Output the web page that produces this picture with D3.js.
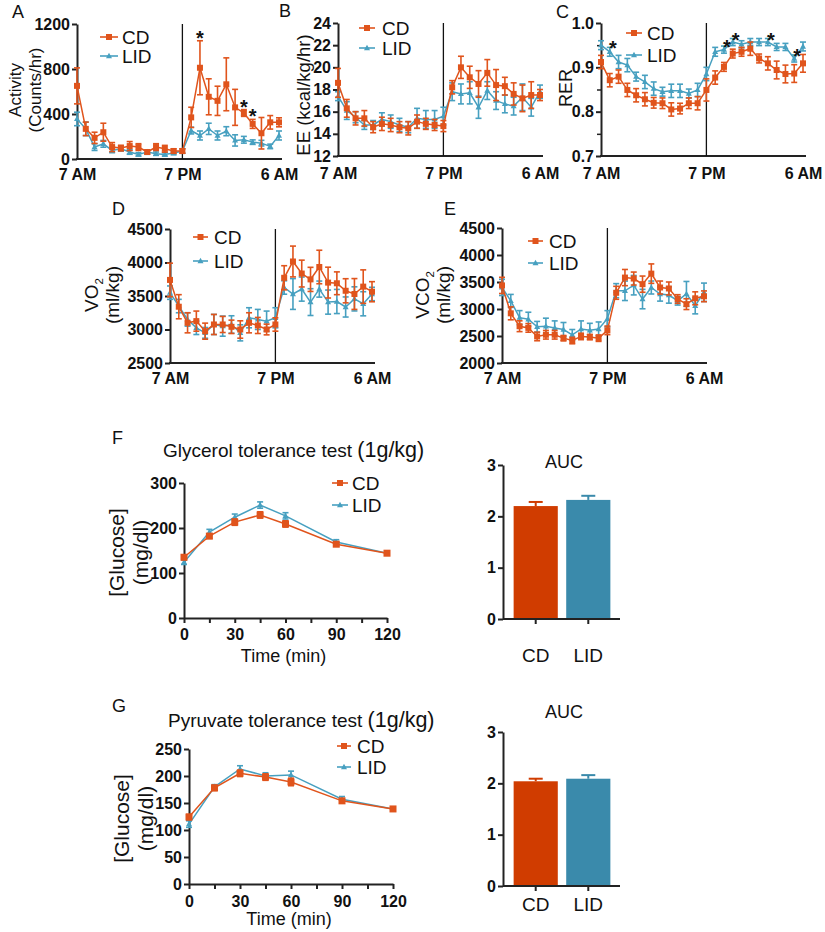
<!DOCTYPE html>
<html><head><meta charset="utf-8">
<script src="https://cdn.jsdelivr.net/npm/d3@7"></script>
<style>
body{margin:0;background:#fff}
svg{display:block}
text{font-family:Arial,"Liberation Sans",Helvetica,sans-serif;fill:#111}
</style>
</head><body><svg id="c" width="825" height="932"></svg>
<script>
// ---------------- DATA ----------------
const hours = ["7 AM","8 AM","9 AM","10 AM","11 AM","12 PM","1 PM","2 PM","3 PM","4 PM","5 PM","6 PM",
               "7 PM","8 PM","9 PM","10 PM","11 PM","12 AM","1 AM","2 AM","3 AM","4 AM","5 AM","6 AM"];
const hourTicks = ["7 AM","7 PM","6 AM"];
const groups = ["CD","LID"];

const activityCD     = [650,268,188,238,106,97,115,106,62,106,91,71,71,370,811,553,517,664,459,409,312,229,326,326];
const activityCDErr  = [160,60,50,80,40,25,40,30,15,30,30,20,20,90,240,160,130,235,160,30,40,140,60,40];
const activityLID    = [356,268,106,135,76,91,62,41,62,47,41,53,71,253,209,268,209,247,165,171,150,141,112,209];
const activityLIDErr = [60,60,30,30,20,20,20,15,20,15,15,15,20,30,40,50,40,40,50,30,20,25,20,40];
const activityStars  = [14,19,20];
const activityTicks  = [0,400,800,1200];

const eeCD     = [18.6,16.3,15.4,15.4,14.6,14.9,14.8,14.6,14.5,15.1,14.9,14.8,14.7,18.2,20.0,19.1,18.5,19.5,18.4,18.3,17.6,17.2,17.5,17.5];
const eeCDErr  = [1.3,0.8,0.6,0.7,0.5,0.6,0.6,0.5,0.6,0.6,0.5,0.5,0.5,0.6,1.0,1.0,1.2,1.2,1.4,0.8,1.0,1.2,1.2,0.5];
const eeLID    = [17.4,16.1,15.5,14.8,14.8,15.3,15.1,14.8,14.6,15.4,15.3,15.3,15.6,17.8,17.6,17.7,16.4,17.9,17.0,16.7,16.5,17.3,16.4,17.8];
const eeLIDErr = [0.4,0.8,0.5,0.4,0.4,0.6,0.6,0.6,0.5,0.9,0.8,0.8,0.8,0.8,0.9,1.0,1.0,0.8,0.8,0.8,0.8,1.2,0.8,0.6];
const eeTicks  = [12,14,16,18,20,22,24];

const rerCD     = [0.912,0.871,0.879,0.849,0.837,0.828,0.820,0.819,0.805,0.807,0.819,0.819,0.849,0.877,0.901,0.931,0.935,0.942,0.920,0.909,0.894,0.885,0.886,0.909];
const rerCDErr  = [0.015,0.015,0.015,0.015,0.015,0.015,0.012,0.012,0.015,0.012,0.012,0.015,0.025,0.015,0.01,0.01,0.01,0.015,0.01,0.015,0.02,0.02,0.02,0.02];
const rerLID    = [0.950,0.935,0.912,0.905,0.879,0.867,0.852,0.845,0.847,0.847,0.841,0.849,0.885,0.935,0.940,0.957,0.952,0.957,0.957,0.957,0.946,0.946,0.920,0.947];
const rerLIDErr = [0.01,0.01,0.015,0.015,0.01,0.015,0.015,0.01,0.015,0.015,0.01,0.015,0.015,0.01,0.008,0.008,0.008,0.008,0.008,0.008,0.008,0.008,0.008,0.01];
const rerStars  = [1,14,15,19,22];
const rerTicks  = [0.7,0.8,0.9,1.0];
const rerMinor  = [0.75,0.85,0.95];

const vo2CD     = [3740,3340,3100,3125,2975,3075,3075,3040,3000,3100,3060,3000,3075,3772,4015,3835,3748,3933,3700,3690,3578,3530,3640,3564];
const vo2CDErr  = [250,180,150,150,120,150,120,100,130,150,120,80,100,180,230,200,180,250,230,170,180,230,250,150];
const vo2LID    = [3550,3350,3150,3025,2950,3075,3050,3075,2950,3175,3150,3125,3175,3627,3530,3603,3409,3603,3409,3418,3336,3457,3384,3530];
const vo2LIDErr = [100,100,100,100,80,150,150,130,120,150,150,150,150,100,230,180,200,120,180,180,150,180,180,100];
const vo2Ticks  = [2500,3000,3500,4000,4500];

const vco2CD     = [3437,2920,2681,2650,2492,2523,2523,2460,2416,2492,2480,2460,2605,3300,3582,3564,3460,3655,3398,3380,3185,3090,3198,3235];
const vco2CDErr  = [150,120,100,80,80,80,80,50,60,60,50,60,80,120,150,120,150,180,120,120,80,100,120,100];
const vco2LID    = [3400,3150,2840,2810,2670,2680,2650,2620,2520,2630,2605,2630,2820,3340,3337,3441,3184,3398,3276,3258,3153,3280,3060,3310];
const vco2LIDErr = [150,120,130,130,100,150,130,130,100,150,130,130,150,130,180,180,180,120,130,150,80,230,150,170];
const vco2Ticks  = [2000,2500,3000,3500,4000,4500];

const minutes    = [0,15,30,45,60,90,120];
const minuteTickLabels = [0,30,60,90,120];
const gttCD      = [135,182,213,229,209,164,144];
const gttCDErr   = [5,5,7,7,7,4,3];
const gttLID     = [124,191,224,251,227,169,144];
const gttLIDErr  = [5,6,7,7,7,5,3];
const gttTicks   = [0,100,200,300];
const pttCD      = [124,178,205,198,189,154,139];
const pttCDErr   = [5,5,6,6,7,4,3];
const pttLID     = [111,180,213,200,202,157,139];
const pttLIDErr  = [6,4,6,6,7,5,3];
const pttTicks   = [0,50,100,150,200,250];

const gttAUC    = [2.20,2.32];
const gttAUCErr = [0.08,0.08];
const pttAUC    = [2.04,2.09];
const pttAUCErr = [0.05,0.07];
const aucTicks  = [0,1,2,3];

// ---------------- STYLE ----------------
const CD_C = "#e0541c", LID_C = "#47a0c0";
const CD_BAR = "#d03c00", LID_BAR = "#3a8aab";
const AX = "#222";

const svg = d3.select("#c");

function styleAxis(sel, fs){
  sel.select(".domain").attr("stroke",AX).attr("stroke-width",2);
  sel.selectAll(".tick line").attr("stroke",AX).attr("stroke-width",2);
  sel.selectAll(".tick text").attr("font-size",fs).attr("font-weight","bold").attr("fill","#111")
     .attr("font-family","Arial, 'Liberation Sans', sans-serif");
}

function marker(g, shape, cx, cy, color, s){
  if(shape==="sq"){
    g.append("rect").attr("x",cx-s/2).attr("y",cy-s/2).attr("width",s).attr("height",s).attr("fill",color);
  } else {
    const h = s*0.9;
    g.append("path").attr("d",`M${cx},${cy-h*0.6}L${cx+s/2},${cy+h*0.4}L${cx-s/2},${cy+h*0.4}Z`).attr("fill",color);
  }
}

function series(g, x, y, xs, vals, errs, color, shape, ms, cap){
  const line = d3.line().x((d,i)=>x(xs[i])).y(d=>y(d));
  g.append("path").datum(vals).attr("d",line).attr("fill","none").attr("stroke",color).attr("stroke-width",1.5);
  vals.forEach((v,i)=>{
    const cx = x(xs[i]);
    const e = errs[i];
    g.append("line").attr("x1",cx).attr("x2",cx).attr("y1",y(v-e)).attr("y2",y(v+e)).attr("stroke",color).attr("stroke-width",1.6);
    [v-e,v+e].forEach(b=>g.append("line").attr("x1",cx-cap/2).attr("x2",cx+cap/2).attr("y1",y(b)).attr("y2",y(b))
       .attr("stroke",color).attr("stroke-width",1.6));
  });
  vals.forEach((v,i)=>marker(g,shape,x(xs[i]),y(v),color,ms));
}

function legend(g, L){
  [[groups[0],CD_C,"sq",L.y1],[groups[1],LID_C,"tri",L.y2]].forEach(([name,col,sh,yy])=>{
    g.append("line").attr("x1",L.lx).attr("x2",L.lx+L.lw).attr("y1",yy).attr("y2",yy).attr("stroke",col).attr("stroke-width",1.6);
    marker(g,sh,L.lx+L.lw/2,yy,col,6);
    g.append("text").attr("x",L.tx).attr("y",yy).attr("dy","0.36em").attr("font-size",L.fs||19).text(name);
  });
}

function ylabel(g, lines, yc){
  lines.forEach(l=>{
    const t = g.append("text").attr("transform",`translate(${l.x},${yc}) rotate(-90)`).attr("text-anchor","middle")
      .attr("dy","0.36em").attr("font-size",l.size);
    if(l.sub){
      t.append("tspan").text(l.text);
      t.append("tspan").attr("font-size",l.size*0.6).attr("dy","0.45em").text(l.sub);
    } else t.text(l.text);
  });
}

function letter(t,x,y){ svg.append("text").attr("x",x).attr("y",y).attr("font-size",18).text(t); }

function timePanel(c){
  const g = svg.append("g");
  const x = d3.scaleLinear().domain([0,hours.length-1]).range([c.x0,c.x0+202]);
  const y = d3.scaleLinear().domain(c.domain).range([c.bottom,c.top]);
  const idx = hours.map((h,i)=>i);
  const ya = g.append("g").attr("transform",`translate(${c.x0},0)`)
    .call(d3.axisLeft(y).tickValues(c.ticks).tickFormat(c.fmt||d3.format("d")).tickSize(5).tickPadding(2).tickSizeOuter(0));
  styleAxis(ya,16);
  if(c.minor){
    g.append("g").attr("transform",`translate(${c.x0},0)`)
      .call(d3.axisLeft(y).tickValues(c.minor).tickFormat("").tickSize(4).tickSizeOuter(0))
      .call(s=>{s.select(".domain").remove(); s.selectAll("line").attr("stroke",AX).attr("stroke-width",1.5);});
  }
  const xa = g.append("g").attr("transform",`translate(0,${c.bottom})`)
    .call(d3.axisBottom(x).tickValues(hourTicks.map(h=>hours.indexOf(h))).tickFormat(i=>hours[i]).tickSize(0).tickSizeOuter(0));
  styleAxis(xa,16);
  xa.select(".domain").attr("d",`M${c.x0-1},0H${c.x0+205}`);
  xa.selectAll(".tick text").attr("y",c.labDy).attr("dy",null);
  const pm = x(hours.indexOf("7 PM"));
  g.append("line").attr("x1",pm).attr("x2",pm).attr("y1",c.top).attr("y2",c.bottom).attr("stroke","#111").attr("stroke-width",1.3);
  series(g,x,y,idx,c.lid,c.lidErr,LID_C,"tri",6,6);
  series(g,x,y,idx,c.cd,c.cdErr,CD_C,"sq",6,6);
  if(c.stars){
    c.stars.forEach(i=>{
      const top = Math.max(c.cd[i]+c.cdErr[i], c.lid[i]+c.lidErr[i]);
      g.append("text").attr("x",x(i)+c.starDx).attr("y",y(top)+c.starOff).attr("text-anchor","middle")
        .attr("font-size",20).attr("font-weight","bold").text("*");
    });
  }
  legend(g,c.legend);
  ylabel(g,c.ylab,c.yc);
}

timePanel({x0:77,top:24,bottom:159,domain:[0,1200],ticks:activityTicks,cd:activityCD,cdErr:activityCDErr,
  lid:activityLID,lidErr:activityLIDErr,stars:activityStars,starOff:4,starDx:0,labDy:21,
  legend:{lx:100,lw:18,tx:122,y1:37,y2:56},
  ylab:[{text:"Activity",x:15,size:17},{text:"(Counts/hr)",x:35,size:17}],yc:90});
timePanel({x0:338,top:23,bottom:156,domain:[12,24],ticks:eeTicks,cd:eeCD,cdErr:eeCDErr,lid:eeLID,lidErr:eeLIDErr,labDy:23,
  legend:{lx:359,lw:16,tx:382,y1:28,y2:48},
  ylab:[{text:"EE (kcal/kg/hr)",x:303,size:18.5}],yc:95});
timePanel({x0:601,top:23,bottom:156,domain:[0.7,1.0],ticks:rerTicks,minor:rerMinor,fmt:d3.format(".1f"),
  cd:rerCD,cdErr:rerCDErr,lid:rerLID,lidErr:rerLIDErr,stars:rerStars,starOff:8,starDx:3,labDy:23,
  legend:{lx:626,lw:16,tx:647,y1:33,y2:55},
  ylab:[{text:"RER",x:566,size:18}],yc:88});
timePanel({x0:170,top:229,bottom:363,domain:[2500,4500],ticks:vo2Ticks,cd:vo2CD,cdErr:vo2CDErr,lid:vo2LID,lidErr:vo2LIDErr,labDy:21,
  legend:{lx:193,lw:15,tx:214,y1:237,y2:261},
  ylab:[{text:"VO",sub:"2",x:91,size:19},{text:"(ml/kg)",x:112,size:19}],yc:295});
timePanel({x0:502,top:228,bottom:363,domain:[2000,4500],ticks:vco2Ticks,cd:vco2CD,cdErr:vco2CDErr,lid:vco2LID,lidErr:vco2LIDErr,labDy:21,
  legend:{lx:528,lw:15,tx:549,y1:241,y2:263},
  ylab:[{text:"VCO",sub:"2",x:422,size:19},{text:"(ml/kg)",x:443,size:19}],yc:295});

letter("A",12,18); letter("B",279,17); letter("C",556,18); letter("D",112,215); letter("E",444,215);
letter("F",112,444); letter("G",112,712);

function gluPanel(c){
  const g = svg.append("g");
  const x = d3.scaleLinear().domain([0,120]).range([c.x0,c.x1]);
  const y = d3.scaleLinear().domain([0,c.ticks[c.ticks.length-1]]).range([c.bottom,c.top]);
  const ya = g.append("g").attr("transform",`translate(${c.x0},0)`)
    .call(d3.axisLeft(y).tickValues(c.ticks).tickSize(5).tickPadding(2).tickSizeOuter(0));
  styleAxis(ya,16);
  const xa = g.append("g").attr("transform",`translate(0,${c.bottom})`)
    .call(d3.axisBottom(x).tickValues(d3.range(0,121,15)).tickFormat(d=>minuteTickLabels.includes(d)?d:"").tickSize(5).tickPadding(3).tickSizeOuter(0));
  styleAxis(xa,16);
  xa.selectAll(".tick text").attr("y",c.labDy).attr("dy",null);
  series(g,x,y,minutes,c.lid,c.lidErr,LID_C,"tri",6,6);
  series(g,x,y,minutes,c.cd,c.cdErr,CD_C,"sq",7,6);
  legend(g,c.legend);
  ylabel(g,[{text:"[Glucose]",x:c.x0-68,size:21},{text:"(mg/dl)",x:c.x0-44,size:21}],(c.top+c.bottom)/2+2);
  g.append("text").attr("x",(c.x0+c.x1)/2-2).attr("y",c.bottom+c.xlabDy).attr("text-anchor","middle").attr("font-size",18).text("Time (min)");
  const t = g.append("text").attr("x",c.titleX).attr("y",c.titleY).attr("font-size",19);
  t.append("tspan").text(c.title+" ");
  t.append("tspan").attr("font-size",21.5).text("(1g/kg)");
}

gluPanel({x0:184,x1:387,top:483,bottom:618,ticks:gttTicks,cd:gttCD,cdErr:gttCDErr,lid:gttLID,lidErr:gttLIDErr,labDy:22,xlabDy:44,
  legend:{lx:332,lw:16,tx:352,y1:483,y2:505},title:"Glycerol tolerance test",titleX:163,titleY:457});
gluPanel({x0:189,x1:393,top:749,bottom:884,ticks:pttTicks,cd:pttCD,cdErr:pttCDErr,lid:pttLID,lidErr:pttLIDErr,labDy:23,xlabDy:41,
  legend:{lx:337,lw:14,tx:357,y1:746,y2:767},title:"Pyruvate tolerance test",titleX:168,titleY:727});

function aucPanel(c){
  const g = svg.append("g");
  const x = d3.scaleBand().domain(groups).range([c.x0+8,c.x0+110]).paddingInner(0.16).paddingOuter(0.05);
  const y = d3.scaleLinear().domain([0,3]).range([c.bottom,c.top]);
  const cols = [CD_BAR,LID_BAR];
  groups.forEach((gr,i)=>{
    const v = c.vals[i], e = c.errs[i];
    const cx = x(gr)+x.bandwidth()/2;
    g.append("line").attr("x1",cx).attr("x2",cx).attr("y1",y(v)).attr("y2",y(v+e)).attr("stroke",cols[i]).attr("stroke-width",2);
    g.append("line").attr("x1",cx-7).attr("x2",cx+7).attr("y1",y(v+e)).attr("y2",y(v+e)).attr("stroke",cols[i]).attr("stroke-width",2);
    g.append("rect").attr("x",x(gr)).attr("y",y(v)).attr("width",x.bandwidth()).attr("height",y(0)-y(v)).attr("fill",cols[i]);
  });
  const ya = g.append("g").attr("transform",`translate(${c.x0},0)`)
    .call(d3.axisLeft(y).tickValues(aucTicks).tickFormat(d3.format("d")).tickSize(5).tickPadding(2).tickSizeOuter(0));
  styleAxis(ya,16);
  const xa = g.append("g").attr("transform",`translate(0,${c.bottom})`)
    .call(d3.axisBottom(x).tickSize(5).tickSizeOuter(0));
  styleAxis(xa,19);
  xa.select(".domain").attr("d",`M${c.x0},0H${c.x0+117}`);
  xa.selectAll(".tick text").attr("font-weight","normal").attr("y",c.labDy).attr("dy",null);
  g.append("text").attr("x",c.x0+61).attr("y",c.titleY).attr("text-anchor","middle").attr("font-size",18).text("AUC");
}
aucPanel({x0:503,top:465,bottom:619,vals:gttAUC,errs:gttAUCErr,labDy:43,titleY:468});
aucPanel({x0:503,top:732,bottom:886,vals:pttAUC,errs:pttAUCErr,labDy:25,titleY:718});
</script>
</body></html>
